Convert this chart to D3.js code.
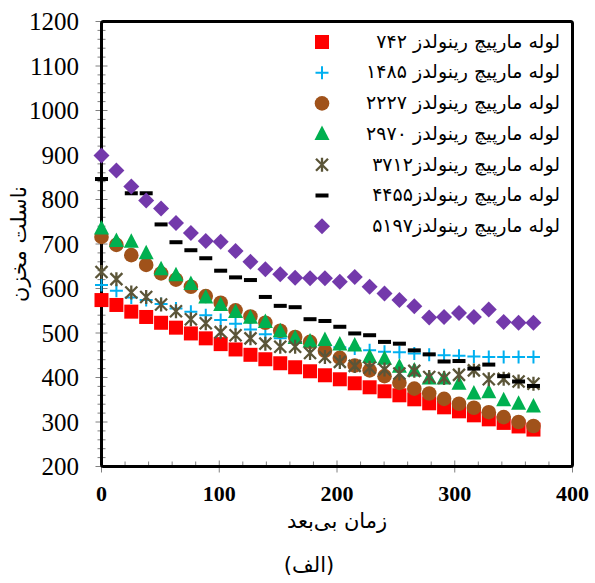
<!DOCTYPE html>
<html><head><meta charset="utf-8">
<script src="https://cdn.jsdelivr.net/npm/d3@7"></script>
<style>body{margin:0;background:#fff}</style>
</head><body>
<svg id="c" width="595" height="583"></svg>
<script>
const step = 12.65;
const red742   = [574,563,548,536,523,512,499,488,475,463,451,441,432,423,414,405,396,387,378,369,360,351,342,333,324,315,306,298,290,283];
const blue1485 = [608,595,580,574,565,555,548,540,529,521,508,497,488,480,478,472,468,465,461,458,457,454,451,450,449,447,446,446,446,446];
const brown2227= [716,698,675,653,634,620,604,583,568,551,537,523,505,491,480,460,444,427,416,403,388,375,364,352,341,332,322,311,300,291];
const green2970= [735,707,705,679,643,630,610,580,563,547,534,525,504,489,481,484,474,472,446,442,424,416,398,398,386,364,367,349,341,335];
const star3712 = [637,621,591,581,564,549,531,522,502,495,488,476,469,469,455,446,435,426,422,418,409,415,401,399,406,416,396,397,391,386];
const dash4455 = [846,null,814,814,744,704,686,668,640,625,619,581,561,558,531,527,514,499,495,480,476,461,452,436,437,420,429,403,391,381];
const dia5197  = [899,865,829,798,780,747,725,707,705,684,660,643,632,624,623,623,615,626,604,589,574,560,535,536,545,536,553,525,523,523];
const yTicks = [200,300,400,500,600,700,800,900,1000,1100,1200];
const xTicks = [0,100,200,300,400];
const labels = [
  "لوله مارپیچ رینولدز ۷۴۲",
  "لوله مارپیچ رینولدز ۱۴۸۵",
  "لوله مارپیچ رینولدز ۲۲۲۷",
  "لوله مارپیچ رینولدز ۲۹۷۰",
  "لوله مارپیچ  رینولدز۳۷۱۲",
  "لوله مارپیچ  رینولدز۴۴۵۵",
  "لوله مارپیچ  رینولدز۵۱۹۷"
];
const yTitle = "ناسلت مخزن";
const xTitle = "زمان بی‌بعد";
const caption = "(الف)";

const series = [
  {v:red742, type:"square", color:"#FF0000"},
  {v:blue1485, type:"plus", color:"#00B0F0"},
  {v:brown2227, type:"circle", color:"#A0521A"},
  {v:green2970, type:"triangle", color:"#00B050"},
  {v:star3712, type:"star", color:"#5B5538"},
  {v:dash4455, type:"dash", color:"#000000"},
  {v:dia5197, type:"diamond", color:"#7339AB"}
];

const L=101.5, R=572.5, T=21.5, B=466.5;
const x = d3.scaleLinear().domain([0,400]).range([L,R]);
const y = d3.scaleLinear().domain([200,1200]).range([B,T]);
const svg = d3.select("#c");

function drawMarker(g, type, color, cx, cy){
  if(type==="square") g.append("rect").attr("x",cx-7).attr("y",cy-7).attr("width",14).attr("height",14).attr("fill",color);
  else if(type==="plus") g.append("path").attr("d",`M${cx-6.5},${cy}H${cx+6.5}M${cx},${cy-6.5}V${cy+6.5}`).attr("stroke",color).attr("stroke-width",2).attr("fill","none");
  else if(type==="circle") g.append("circle").attr("cx",cx).attr("cy",cy).attr("r",7.3).attr("fill",color);
  else if(type==="triangle") g.append("path").attr("d",`M${cx},${cy-8.5}L${cx+7.5},${cy+6}L${cx-7.5},${cy+6}Z`).attr("fill",color);
  else if(type==="star") g.append("path").attr("d",`M${cx},${cy-7}V${cy+7}M${cx-6},${cy-6}L${cx+6},${cy+6}M${cx+6},${cy-6}L${cx-6},${cy+6}`).attr("stroke",color).attr("stroke-width",2.3).attr("fill","none");
  else if(type==="dash") g.append("rect").attr("x",cx-6.5).attr("y",cy-2).attr("width",13).attr("height",4).attr("fill",color);
  else if(type==="diamond") g.append("path").attr("d",`M${cx},${cy-8}L${cx+8},${cy}L${cx},${cy+8}L${cx-8},${cy}Z`).attr("fill",color);
}

// ticks y
const gy = svg.append("g");
for(let v=200; v<=1200; v+=20){
  const major = (v%100===0);
  gy.append("line").attr("x1", major?L-6:L-4).attr("x2", major?L+6:L+4)
    .attr("y1",y(v)).attr("y2",y(v)).attr("stroke","#808080").attr("stroke-width",1);
}
yTicks.forEach(v=>{
  svg.append("text").attr("x",79).attr("y",y(v)).attr("dy","0.35em").attr("text-anchor","end")
    .attr("font-family","Liberation Serif").attr("font-size",25).attr("fill","#000").text(v);
});
// ticks x
for(let v=0; v<=400; v+=20){
  const major = (v%100===0);
  svg.append("line").attr("x1",x(v)).attr("x2",x(v)).attr("y1", major?B-6:B-5).attr("y2", major?B+6:B)
    .attr("stroke","#808080").attr("stroke-width",1);
}
xTicks.forEach(v=>{
  svg.append("text").attr("x",x(v)).attr("y",501).attr("text-anchor","middle")
    .attr("font-family","Liberation Serif").attr("font-weight","bold").attr("font-size",22).attr("fill","#000").text(v);
});

// frame
svg.append("rect").attr("x",L).attr("y",T).attr("width",R-L).attr("height",B-T)
  .attr("fill","none").attr("stroke","#000").attr("stroke-width",3).attr("rx",2);

// data
series.forEach(s=>{
  const g = svg.append("g");
  s.v.forEach((val,i)=>{ if(val!==null) drawMarker(g, s.type, s.color, x(i*step), y(val)); });
});

// legend
const lg = svg.append("g");
labels.forEach((t,i)=>{
  const cy = 42 + i*30.7;
  drawMarker(lg, series[i].type, series[i].color, 322, cy);
  lg.append("text").attr("x",560).attr("y",cy).attr("dy","0.3em").attr("text-anchor","end")
    .attr("font-family","DejaVu Sans").attr("font-size",19).attr("fill","#000").text(t);
});

// titles
svg.append("text").attr("transform",`translate(26,${y(700)}) rotate(-90)`).attr("text-anchor","middle")
  .attr("font-family","DejaVu Sans").attr("font-size",21).attr("fill","#000").text(yTitle);
svg.append("text").attr("x",337).attr("y",528).attr("text-anchor","middle")
  .attr("font-family","DejaVu Sans").attr("font-size",21).attr("fill","#000").text(xTitle);
svg.append("text").attr("x",309).attr("y",572).attr("text-anchor","middle")
  .attr("font-family","DejaVu Sans").attr("font-size",21).attr("fill","#000").text(caption);
</script>
</body></html>
